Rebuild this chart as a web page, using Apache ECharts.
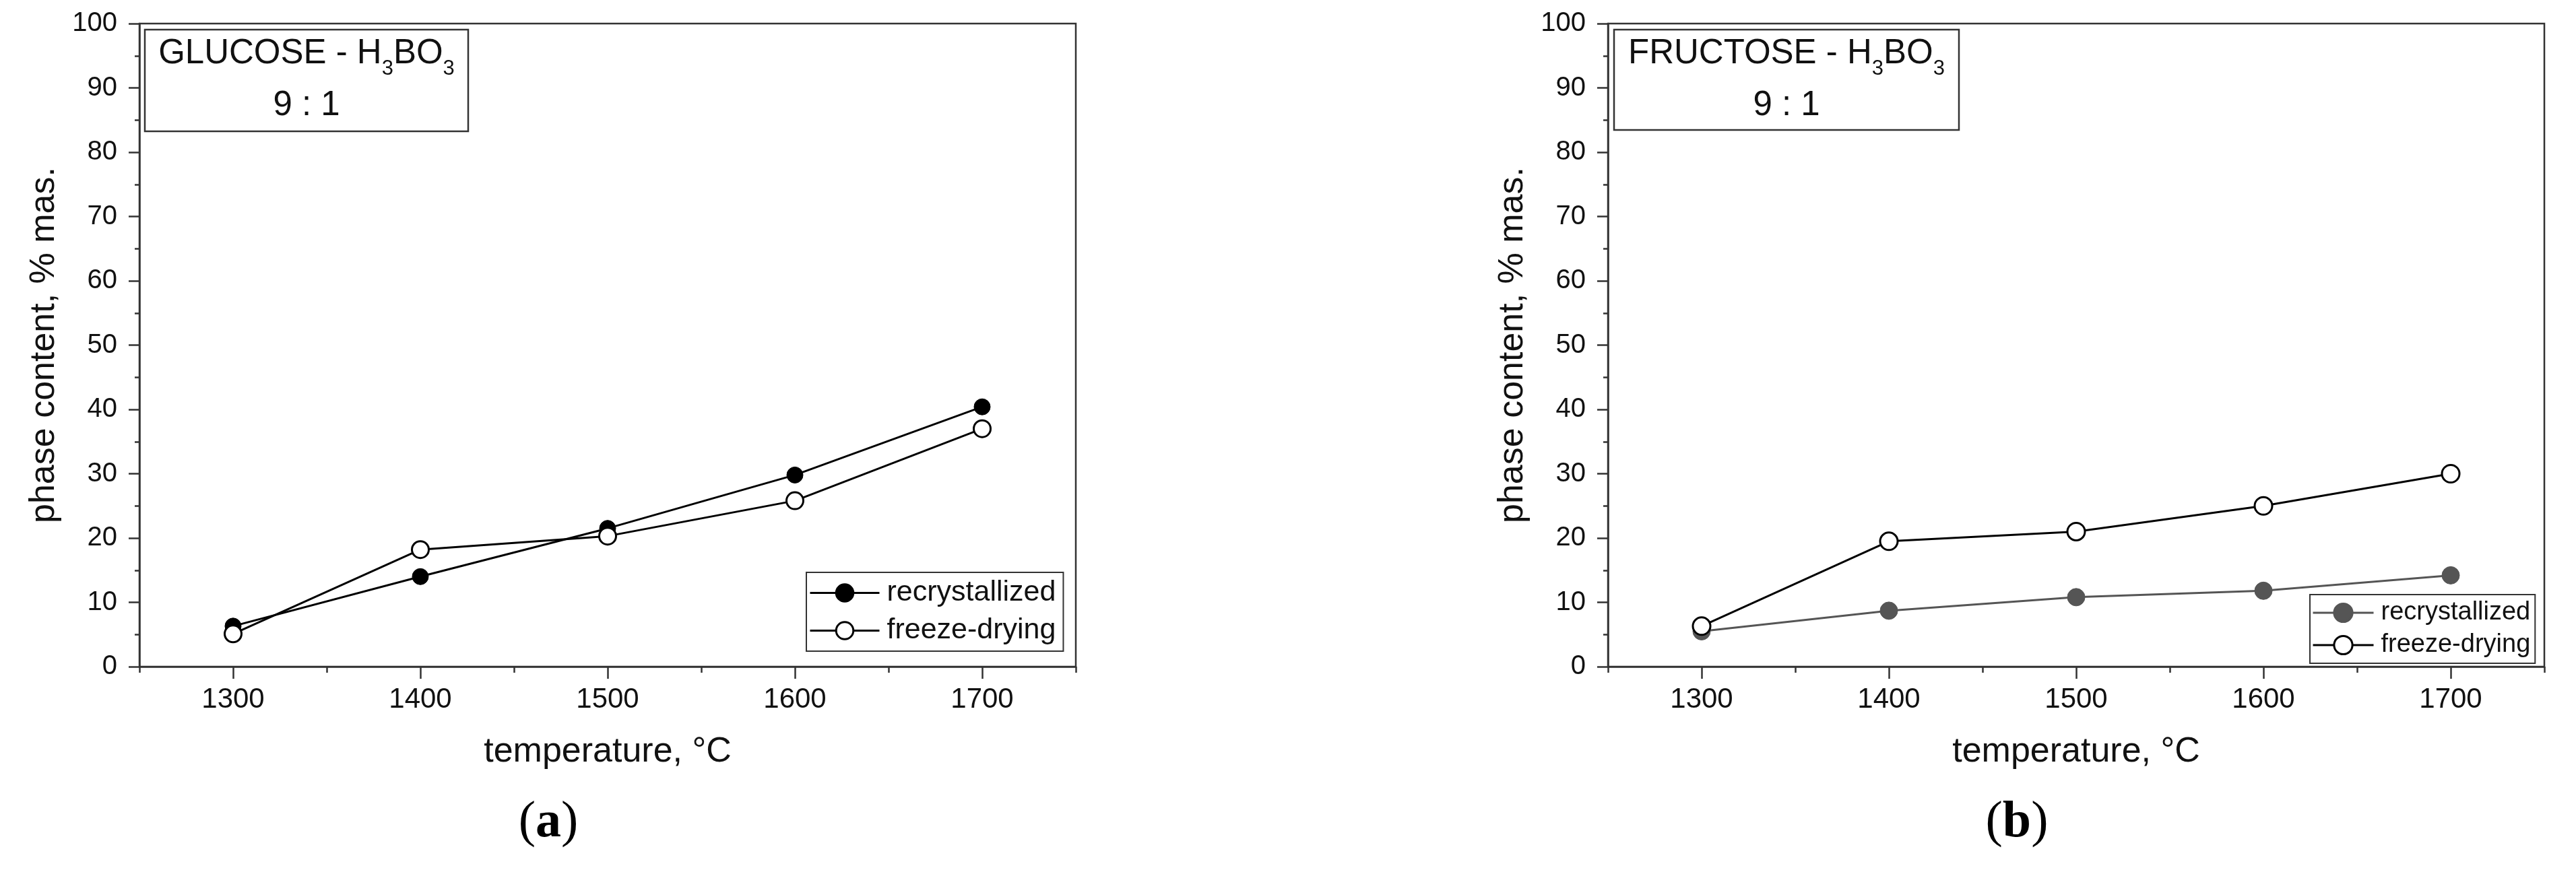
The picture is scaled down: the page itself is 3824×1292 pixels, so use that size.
<!DOCTYPE html>
<html>
<head>
<meta charset="utf-8">
<script src="https://cdn.jsdelivr.net/npm/echarts@6/dist/echarts.min.js"></script>
<style>
html,body{margin:0;padding:0;background:#fff;}
#chart{width:3824px;height:1292px;}
</style>
</head>
<body>
<div id="chart"></div>
<script>
// ---- data ----
const temperatures = [1300, 1400, 1500, 1600, 1700];
const xTickLabels = [1300, 1400, 1500, 1600, 1700];
const xMinorTicks = [1250, 1350, 1450, 1550, 1650, 1750];
const seriesNames = ['recrystallized', 'freeze-drying'];
// (a) GLUCOSE - H3BO3 9:1
const glucoseRecrystallized = [6.3, 14.0, 21.5, 29.8, 40.4];
const glucoseFreezeDrying = [5.1, 18.2, 20.3, 25.8, 37.0];
// (b) FRUCTOSE - H3BO3 9:1
const fructoseRecrystallized = [5.5, 8.7, 10.8, 11.8, 14.2];
const fructoseFreezeDrying = [6.3, 19.5, 21.0, 25.0, 30.0];

const FONT = '"Liberation Sans", Arial, sans-serif';
const SERIF = '"Liberation Serif", "Times New Roman", serif';
const AX = '#333';
const pairs = (vals) => temperatures.map((t, i) => [t, vals[i]]);

function mainX(grid) {
  return {
    type: 'value', gridIndex: grid, position: 'bottom', min: 1250, max: 1750, interval: 50,
    name: 'temperature, °C', nameLocation: 'middle', nameGap: 101,
    nameTextStyle: { fontFamily: FONT, fontSize: 52, color: '#111' },
    axisLine: { show: true, lineStyle: { color: AX, width: 2.5 } },
    axisTick: { show: true, length: 18, customValues: xTickLabels, lineStyle: { color: AX, width: 2.5 } },
    axisLabel: { show: true, customValues: xTickLabels, margin: 28, fontFamily: FONT, fontSize: 42, color: '#111',
      formatter: v => (v % 100 === 0 ? String(v) : '') },
    splitLine: { show: false }
  };
}
function minorX(grid) {
  return {
    type: 'value', gridIndex: grid, position: 'bottom', min: 1250, max: 1750, interval: 50,
    axisLine: { show: false },
    axisTick: { show: true, length: 9, customValues: xMinorTicks, lineStyle: { color: AX, width: 2.5 } },
    axisLabel: { show: false },
    splitLine: { show: false }
  };
}
function mainY(grid) {
  return {
    type: 'value', gridIndex: grid, min: 0, max: 100, interval: 10,
    name: 'phase content, % mas.', nameLocation: 'middle', nameGap: 115, nameRotate: 90,
    nameTextStyle: { fontFamily: FONT, fontSize: 52, color: '#111' },
    axisLine: { show: true, lineStyle: { color: AX, width: 2.5 } },
    axisTick: { show: true, length: 16, lineStyle: { color: AX, width: 2.5 } },
    minorTick: { show: true, splitNumber: 2, length: 7, lineStyle: { color: AX, width: 2.5 } },
    axisLabel: { margin: 33, fontFamily: FONT, fontSize: 40, color: '#111' },
    splitLine: { show: false }, minorSplitLine: { show: false }
  };
}
function filledSeries(name, x, y, vals, color, size) {
  return {
    name, type: 'line', xAxisIndex: x, yAxisIndex: y, data: pairs(vals),
    symbol: 'circle', symbolSize: size,
    lineStyle: { color, width: 3 }, itemStyle: { color, borderColor: color, borderWidth: 1 },
    emphasis: { disabled: true }, z: 3
  };
}
function openSeries(name, x, y, vals, size) {
  return {
    name, type: 'line', xAxisIndex: x, yAxisIndex: y, data: pairs(vals),
    symbol: 'circle', symbolSize: size,
    lineStyle: { color: '#000', width: 3 }, itemStyle: { color: '#fff', borderColor: '#000', borderWidth: 3 },
    emphasis: { disabled: true }, z: 4
  };
}
function titleText(x, y, compound) {
  return {
    type: 'text', x, y, z: 20,
    style: {
      text: '{n|' + compound + ' - H}{s|3}{n|BO}{s|3}',
      align: 'center', verticalAlign: 'top',
      rich: {
        n: { fontFamily: FONT, fontSize: 51, lineHeight: 76, verticalAlign: 'middle', fill: '#111' },
        s: { fontFamily: FONT, fontSize: 31, lineHeight: 31, verticalAlign: 'bottom', fill: '#111' }
      }
    }
  };
}
function ratioText(x, y) {
  return { type: 'text', x, y, z: 20, style: { text: '9 : 1', fontFamily: FONT, fontSize: 51, fill: '#111', align: 'center', verticalAlign: 'middle' } };
}
function caption(x, letter) {
  return {
    type: 'text', x, y: 1222, z: 20,
    style: {
      text: '{p|(}{b|' + letter + '}{p|)}',
      align: 'center', verticalAlign: 'middle',
      rich: {
        p: { fontFamily: SERIF, fontSize: 76, fill: '#000' },
        b: { fontFamily: SERIF, fontSize: 76, fontWeight: 'bold', fill: '#000' }
      }
    }
  };
}
function legendBox(names, left, top, padding, itemWidth, itemHeight, itemGap, fontSize, formatter) {
  const lg = {
    data: names, orient: 'vertical', left, top,
    padding, itemWidth, itemHeight, itemGap,
    selectedMode: false, borderColor: AX, borderWidth: 2, backgroundColor: '#fff',
    lineStyle: { width: 3 },
    itemStyle: { borderWidth: 3 },
    textStyle: { fontFamily: FONT, fontSize, color: '#111', padding: [0, 0, 0, 6] }
  };
  if (formatter) lg.formatter = formatter;
  return lg;
}

const chart = echarts.init(document.getElementById('chart'), null, { renderer: 'canvas' });
chart.setOption({
  animation: false,
  backgroundColor: '#fff',
  grid: [
    { left: 207, top: 35, width: 1390, height: 955, show: true, borderColor: AX, borderWidth: 2.5, backgroundColor: 'transparent' },
    { left: 2387, top: 35, width: 1390, height: 955, show: true, borderColor: AX, borderWidth: 2.5, backgroundColor: 'transparent' }
  ],
  xAxis: [mainX(0), minorX(0), mainX(1), minorX(1)],
  yAxis: [mainY(0), mainY(1)],
  legend: [
    legendBox(seriesNames, 1197, 850, [9, 11, 9, 4], 103, 32, 13, 43),
    legendBox(seriesNames.map(n => 'b: ' + n), 3429, 883, [8, 7, 8, 3], 90, 34, 10, 38, n => n.replace(/^b: /, ''))
  ],
  series: [
    filledSeries(seriesNames[0], 0, 0, glucoseRecrystallized, '#000', 24),
    openSeries(seriesNames[1], 0, 0, glucoseFreezeDrying, 25),
    filledSeries('b: ' + seriesNames[0], 2, 1, fructoseRecrystallized, '#555', 26),
    openSeries('b: ' + seriesNames[1], 2, 1, fructoseFreezeDrying, 26)
  ],
  graphic: [
    { type: 'rect', z: 19, shape: { x: 215, y: 44, width: 480, height: 151 }, style: { fill: '#fff', stroke: AX, lineWidth: 2.5 } },
    titleText(455, 42, 'GLUCOSE'),
    ratioText(455, 157),
    { type: 'rect', z: 19, shape: { x: 2396, y: 44, width: 512, height: 149 }, style: { fill: '#fff', stroke: AX, lineWidth: 2.5 } },
    titleText(2652, 42, 'FRUCTOSE'),
    ratioText(2652, 157),
    caption(814, 'a'),
    caption(2994, 'b')
  ]
});
</script>
</body>
</html>
